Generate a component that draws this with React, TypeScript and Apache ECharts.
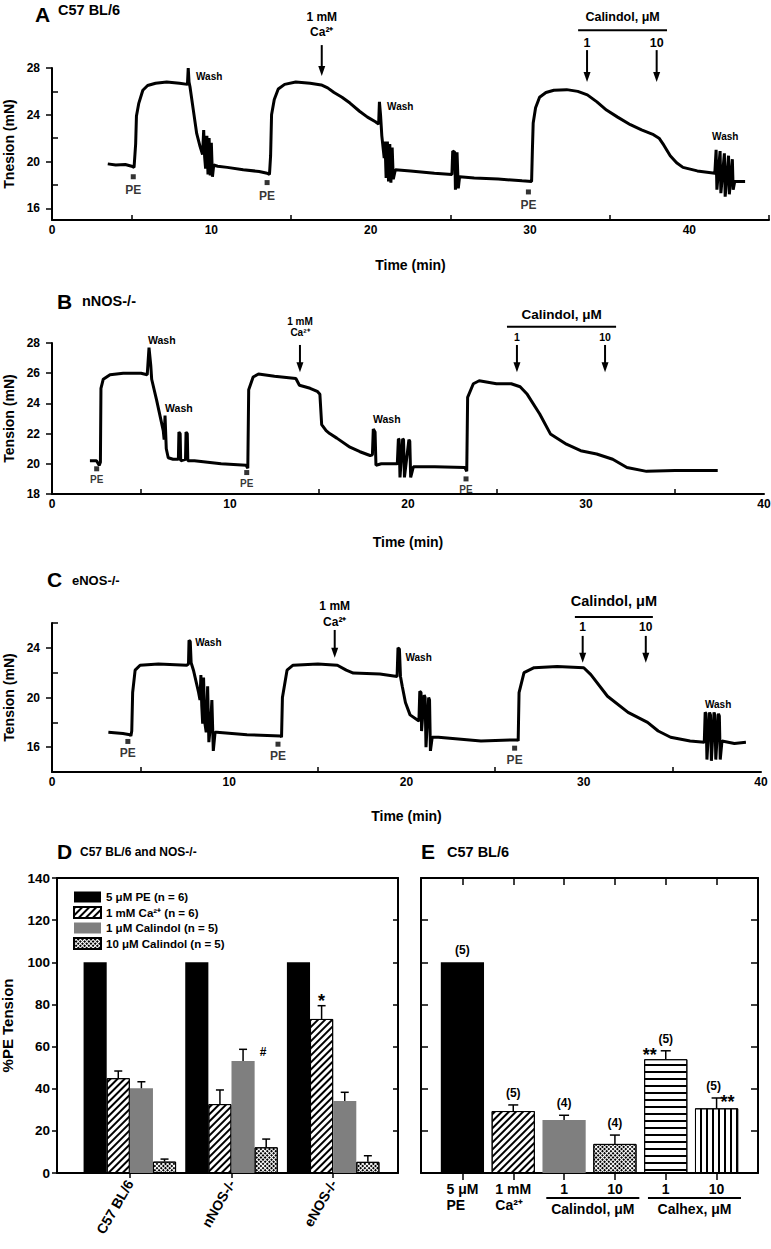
import React, { useEffect, useRef } from 'react';
import * as echarts from 'echarts';

const FONT = '"Liberation Sans", Arial, Helvetica, sans-serif';
const K = '#000000';
const GRAY = '#7f7f7f';

// ---------------- Panel A–C: tension traces [time (min), tension (mN)] ----------------
const traceA = [
  [3.5,19.8],[4.0,19.7],[4.6,19.75],[5.0,19.6],[5.15,19.5],[5.25,21.5],[5.3,23.9],[5.45,25.0],[5.7,26.1],[6.0,26.5],
  [6.5,26.7],[7.2,26.8],[8.0,26.7],[8.5,26.6],[8.55,28.0],[8.6,26.8],[8.66,26.4],[8.87,24.4],[9.08,22.4],[9.29,21.3],
  [9.45,20.6],[9.52,22.7],[9.58,20.4],[9.64,19.4],[9.72,22.2],[9.79,18.9],[9.86,22.0],[9.93,18.8],[10.0,21.6],[10.07,18.7],
  [10.15,19.7],[10.4,19.6],[11.0,19.5],[12.0,19.3],[13.0,19.15],[13.5,19.0],[13.65,18.9],[13.72,20.5],[13.78,24.0],[13.95,25.3],
  [14.2,26.2],[14.6,26.6],[15.3,26.8],[16.2,26.7],[16.9,26.55],[17.3,26.3],[17.7,25.9],[18.2,25.5],[18.7,25.0],[19.3,24.3],
  [19.8,23.8],[20.3,23.4],[20.5,23.2],[20.55,25.1],[20.62,24.0],[20.7,22.2],[20.85,20.3],[20.9,21.7],[20.97,18.6],[21.05,21.7],
  [21.12,18.3],[21.2,21.5],[21.27,18.2],[21.35,21.2],[21.42,18.5],[21.55,19.3],[22.5,19.2],[24.0,19.0],[25.1,18.9],[25.15,20.9],
  [25.28,20.8],[25.32,17.6],[25.42,20.8],[25.5,17.7],[25.58,18.7],[26.5,18.6],[28.0,18.5],[29.5,18.35],[30.1,18.3],[30.15,21.0],
  [30.2,23.3],[30.35,24.6],[30.6,25.5],[31.0,25.9],[31.5,26.1],[32.3,26.15],[33.0,26.0],[33.6,25.7],[34.2,25.1],[34.8,24.4],
  [35.5,23.8],[36.3,23.15],[37.0,22.7],[37.75,22.3],[38.1,22.0],[38.4,21.4],[38.8,20.5],[39.2,19.9],[39.6,19.5],[40.5,19.2],
  [41.6,19.0],[41.68,21.0],[41.73,17.6],[41.93,20.9],[41.98,17.3],[42.2,20.7],[42.25,17.0],[42.46,20.5],[42.51,17.2],[42.7,20.2],
  [42.75,17.6],[42.85,18.3],[43.5,18.3]
];
const traceB = [
  [2.13,20.2],[2.5,20.2],[2.65,19.9],[2.72,20.1],[2.75,25.0],[2.88,25.6],[3.26,25.9],[4.0,26.0],[5.0,26.0],[5.35,25.9],
  [5.45,27.7],[5.55,26.5],[5.6,25.6],[5.88,24.2],[6.25,22.2],[6.3,21.6],[6.35,23.2],[6.42,21.0],[6.53,20.4],[6.8,20.3],
  [7.1,20.3],[7.13,22.1],[7.2,22.0],[7.23,20.2],[7.5,20.3],[7.53,22.1],[7.6,22.0],[7.63,20.2],[8.0,20.2],[9.5,20.0],
  [10.9,19.9],[11.0,19.7],[11.05,24.9],[11.3,25.75],[11.6,25.95],[12.5,25.8],[13.7,25.65],[13.9,25.2],[14.5,25.0],[14.9,24.8],
  [15.05,24.6],[15.15,22.6],[15.4,22.2],[15.6,22.0],[16.0,21.7],[16.74,21.1],[17.3,20.8],[17.87,20.55],[18.0,20.6],[18.05,22.3],
  [18.15,22.1],[18.2,19.9],[18.5,20.0],[19.4,20.0],[19.46,21.65],[19.5,21.6],[19.55,19.1],[19.7,21.65],[19.75,21.6],[19.8,19.1],
  [20.05,21.6],[20.1,21.5],[20.15,19.1],[20.3,19.8],[21.5,19.8],[23.2,19.75],[23.3,19.5],[23.35,24.4],[23.67,25.3],[24.0,25.5],
  [24.97,25.3],[25.8,25.3],[26.3,25.1],[26.7,24.6],[27.4,23.3],[28.0,21.98],[28.9,21.3],[29.7,20.87],[30.6,20.65],[31.5,20.3],
  [32.3,19.75],[33.4,19.5],[35.0,19.55],[37.4,19.55]
];
const traceC = [
  [3.18,17.2],[4.0,17.1],[4.4,17.0],[4.45,16.9],[4.5,17.3],[4.55,20.4],[4.69,22.2],[4.97,22.6],[6.0,22.7],[7.6,22.6],
  [7.7,22.7],[7.73,24.6],[7.8,24.5],[7.85,22.8],[7.98,22.2],[8.27,20.4],[8.35,19.8],[8.4,21.8],[8.45,19.3],[8.5,17.9],
  [8.55,21.6],[8.62,18.0],[8.7,17.2],[8.78,20.9],[8.85,16.4],[8.95,17.9],[9.02,19.8],[9.1,15.7],[9.2,17.2],[9.3,17.2],
  [11.0,17.0],[12.9,16.9],[12.95,16.8],[13.0,20.0],[13.26,22.2],[13.6,22.6],[15.0,22.7],[16.1,22.6],[16.6,22.2],[17.0,21.97],
  [18.5,21.9],[19.47,21.7],[19.52,24.0],[19.6,23.9],[19.66,21.7],[19.76,20.9],[19.94,19.6],[20.2,18.6],[20.7,18.1],[20.75,20.5],
  [20.82,20.4],[20.85,17.3],[21.0,20.2],[21.05,20.0],[21.1,16.0],[21.25,20.0],[21.3,19.8],[21.35,15.7],[21.45,16.8],[21.8,16.8],
  [24.2,16.5],[26.25,16.6],[26.3,16.5],[26.35,20.4],[26.63,22.0],[27.2,22.4],[28.5,22.5],[30.0,22.4],[30.4,21.84],[31.34,20.1],
  [32.5,18.8],[33.6,18.0],[34.2,17.3],[34.9,16.8],[36.0,16.5],[36.8,16.4],[36.85,18.8],[36.9,18.7],[36.95,15.0],[37.1,18.8],
  [37.15,18.6],[37.2,14.9],[37.35,18.8],[37.4,18.6],[37.45,15.0],[37.6,18.7],[37.65,18.5],[37.7,15.0],[37.8,16.5],[38.5,16.3],
  [39.15,16.4]
];

// PE application markers [time, tension]
const peA = [[5.1,18.7],[13.5,18.2],[29.9,17.4]];
const peB = [[2.51,19.67],[10.94,19.42],[23.26,19.0]];
const peC = [[4.28,16.46],[12.75,16.24],[26.1,15.92]];

// Wash label anchors [time, tension]
const washA = [[9.04,27.3],[21.03,24.68],[41.43,22.13]];
const washB = [[5.39,28.2],[6.35,23.67],[18.03,23.0]];
const washC = [[8.08,24.4],[19.94,23.2],[36.84,19.44]];

// Ca2+ addition time and Calindol (1, 10 µM) addition times (min)
const caTimeA = 16.93, caTimeB = 13.93, caTimeC = 15.95;
const calTimesA = [33.58, 37.95];
const calTimesB = [26.12, 31.07];
const calTimesC = [29.94, 33.5];
const calDoses = ['1', '10'];

// ---------------- Panel D ----------------
const groupsD = ['C57 BL/6', 'nNOS-/-', 'eNOS-/-'];
const namesD = ['5 μM PE (n = 6)', '1 mM Ca²⁺ (n = 6)', '1 μM Calindol (n = 5)', '10 μM Calindol (n = 5)'];
const pePctD = [100, 100, 100];
const caPctD = [45.0, 32.7, 73.1];
const caErrD = [3.4, 6.7, 6.3];
const cal1PctD = [40.2, 53.2, 34.2];
const cal1ErrD = [3.1, 5.5, 4.1];
const cal10PctD = [5.4, 12.2, 5.3];
const cal10ErrD = [1.2, 3.9, 2.9];
const sigD = [{ group: 2, bar: 1, text: '*' }, { group: 1, bar: 2, text: '#' }];

// ---------------- Panel E ----------------
const catsE = ['5 μM\nPE', '1 mM\nCa²⁺', '1', '10', '1', '10'];
const pctE = [100, 29.4, 25.2, 13.8, 54.0, 30.7];
const errE = [0, 2.9, 2.2, 4.2, 4.0, 4.9];
const nE = ['(5)', '(5)', '(4)', '(4)', '(5)', '(5)'];
const sigE = ['', '', '', '', '**', '**'];
const groupsE = [{ label: 'Calindol, μM', from: 2, to: 3 }, { label: 'Calhex, μM', from: 4, to: 5 }];

// ---------------- styles ----------------
const HATCH = { symbol: 'rect', symbolSize: 1, dashArrayX: [1, 0], dashArrayY: [1.3, 2.6], rotation: -Math.PI / 4, color: K };
const CROSS = { symbol: 'rect', symbolSize: 1, dashArrayX: [2, 1], dashArrayY: [2, 1], rotation: Math.PI / 4, color: K };
const HSTRIPE = { symbol: 'rect', symbolSize: 1, dashArrayX: [1, 0], dashArrayY: [1.3, 4.3], rotation: 0, color: K };
const VSTRIPE = { symbol: 'rect', symbolSize: 1, dashArrayX: [1, 0], dashArrayY: [1.3, 3.8], rotation: Math.PI / 2, color: K };
const ST_BLACK = { color: K };
const ST_HATCH = { color: '#ffffff', borderColor: K, borderWidth: 1, decal: HATCH };
const ST_GRAY = { color: GRAY };
const ST_CROSS = { color: '#ffffff', borderColor: K, borderWidth: 1, decal: CROSS };
const ST_H = { color: '#ffffff', borderColor: K, borderWidth: 1, decal: HSTRIPE };
const ST_V = { color: '#ffffff', borderColor: K, borderWidth: 1, decal: VSTRIPE };
const stylesD = [ST_BLACK, ST_HATCH, ST_GRAY, ST_CROSS];
const stylesE = [ST_BLACK, ST_HATCH, ST_GRAY, ST_CROSS, ST_H, ST_V];

const GAP_D = 0.09;

const lab = (size: number) => ({ color: K, fontSize: size, fontWeight: 'bold', fontFamily: FONT });
const lineS = { color: K, width: 2 };
const tickS = { color: K, width: 1.5 };

// annotation layout (vertical placement in tension units, font sizes)
const layoutA = { font: 12, wash: 10, calFont: 12.5, numFont: 12.5, caV: [32.4, 31.06, 29.96, 27.32], calV: [32.34, 31.23, 30.13, 29.53, 26.8], calLine: [33.02, 38.6] };
const layoutB = { font: 10, wash: 10.5, calFont: 13.5, numFont: 10.5, caV: [29.4, 28.67, 27.87, 26.07], calV: [29.87, 29.07, 28.4, 27.87, 26.07], calLine: [25.56, 31.69] };
const layoutC = { font: 12, wash: 10, calFont: 14.5, numFont: 12, caV: [27.36, 26.08, 25.44, 23.2], calV: [27.76, 26.48, 25.68, 24.96, 22.8], calLine: [29.5, 33.9] };

function buildOption() {
  const grid = [
    { left: 52, top: 68, width: 717, height: 152 },
    { left: 52, top: 343, width: 712, height: 151 },
    { left: 52, top: 623, width: 709, height: 149 },
    { left: 57, top: 878, width: 341, height: 295 },
    { left: 79, top: 878, width: 305, height: 295 },
    { left: 421, top: 878, width: 337, height: 295 },
    { left: 437, top: 878, width: 305, height: 295 },
  ].map((g) => ({ ...g, containLabel: false, outerBoundsMode: 'none', show: false }));

  const xAxis: any[] = [];
  const yAxis: any[] = [];
  const addX = (o: any) => { xAxis.push(o); return xAxis.length - 1; };
  const addY = (o: any) => { yAxis.push(o); return yAxis.length - 1; };

  const tracePanel = (g: number, c: any) => {
    const x = addX({
      type: 'value', gridIndex: g, min: 0, max: c.xMax, position: 'bottom',
      axisLine: { show: true, onZero: false, lineStyle: lineS }, axisTick: { show: false },
      axisLabel: { show: true, customValues: [0, 10, 20, 30, 40], margin: 4, ...lab(12) },
      splitLine: { show: false },
      name: 'Time (min)', nameLocation: 'middle', nameGap: c.xNameGap, nameTextStyle: lab(14),
    });
    addX({
      type: 'value', gridIndex: g, min: 0, max: c.xMax, position: 'bottom',
      axisLine: { show: false }, axisTick: { show: true, inside: true, length: 5, customValues: c.xMinor, lineStyle: tickS },
      axisLabel: { show: false }, splitLine: { show: false },
    });
    const y = addY({
      type: 'value', gridIndex: g, min: c.yMin, max: c.yMax, position: 'left',
      axisLine: { show: true, onZero: false, lineStyle: lineS },
      axisTick: { show: true, inside: false, length: 6, customValues: c.yLabels, lineStyle: tickS },
      axisLabel: { show: true, customValues: c.yLabels, margin: 12, ...lab(12) },
      splitLine: { show: false },
      name: c.yName, nameLocation: 'middle', nameGap: 35, nameTextStyle: lab(14),
    });
    if (c.yMinor.length) {
      addY({
        type: 'value', gridIndex: g, min: c.yMin, max: c.yMax, position: 'left',
        axisLine: { show: false }, axisTick: { show: true, inside: true, length: 6, customValues: c.yMinor, lineStyle: tickS },
        axisLabel: { show: false }, splitLine: { show: false },
      });
    }
    return { x, y };
  };

  const aA = tracePanel(0, { xMax: 45, xMinor: [5, 15, 25, 35, 45], xNameGap: 38, yMin: 15, yMax: 28, yLabels: [16, 20, 24, 28], yMinor: [18, 22, 26], yName: 'Tnesion (mN)' });
  const aB = tracePanel(1, { xMax: 40, xMinor: [5, 15, 25, 35], xNameGap: 41, yMin: 18, yMax: 28, yLabels: [18, 20, 22, 24, 26, 28], yMinor: [], yName: 'Tension (mN)' });
  const aC = tracePanel(2, { xMax: 40, xMinor: [5, 15, 25, 35], xNameGap: 37, yMin: 14, yMax: 26, yLabels: [16, 20, 24], yMinor: [18, 22, 26], yName: 'Tension (mN)' });

  // ---- D frame ----
  const frameX = (g: number, pos: string) => addX({
    type: 'value', gridIndex: g, min: 0, max: 1, position: pos,
    axisLine: { show: true, onZero: false, lineStyle: lineS }, axisTick: { show: false }, axisLabel: { show: false }, splitLine: { show: false },
  });
  frameX(3, 'bottom'); frameX(3, 'top');
  addY({
    type: 'value', gridIndex: 3, min: 0, max: 140, interval: 20, position: 'left',
    axisLine: { show: true, onZero: false, lineStyle: lineS },
    axisTick: { show: true, inside: false, length: 5, lineStyle: tickS },
    axisLabel: { show: true, margin: 7, ...lab(13.5) }, splitLine: { show: false },
    name: '%PE Tension', nameLocation: 'middle', nameGap: 42, nameTextStyle: lab(15),
  });
  addY({
    type: 'value', gridIndex: 3, min: 0, max: 140, interval: 20, position: 'right',
    axisLine: { show: true, onZero: false, lineStyle: lineS },
    axisTick: { show: true, inside: true, length: 5, lineStyle: tickS },
    axisLabel: { show: false }, splitLine: { show: false },
  });
  const xD = addX({
    type: 'category', gridIndex: 4, data: groupsD, position: 'bottom',
    axisLine: { show: false }, axisTick: { show: true, alignWithLabel: true, length: 5, lineStyle: tickS },
    axisLabel: { show: true, rotate: 60, margin: 8, interval: 0, ...lab(14) }, splitLine: { show: false },
  });
  const yD = addY({ type: 'value', gridIndex: 4, min: 0, max: 140, show: false });

  // ---- E frame ----
  frameX(5, 'bottom'); frameX(5, 'top');
  addY({
    type: 'value', gridIndex: 5, min: 0, max: 140, interval: 20, position: 'left',
    axisLine: { show: true, onZero: false, lineStyle: lineS },
    axisTick: { show: true, inside: true, length: 7, lineStyle: tickS },
    axisLabel: { show: false }, splitLine: { show: false },
  });
  addY({
    type: 'value', gridIndex: 5, min: 0, max: 140, interval: 20, position: 'right',
    axisLine: { show: true, onZero: false, lineStyle: lineS },
    axisTick: { show: true, inside: true, length: 7, lineStyle: tickS },
    axisLabel: { show: false }, splitLine: { show: false },
  });
  const xE = addX({
    type: 'category', gridIndex: 6, data: catsE, position: 'bottom',
    axisLine: { show: false }, axisTick: { show: true, alignWithLabel: true, length: 7, lineStyle: tickS },
    axisLabel: {
      show: true, margin: 8, interval: 0, ...lab(14),
      formatter: (v: string) => v.split('\n').map((s) => `{l|${s}}`).join('\n'),
      rich: { l: { align: 'left', lineHeight: 16, ...lab(14) } },
    },
    splitLine: { show: false },
  });
  addX({
    type: 'category', gridIndex: 6, data: catsE, position: 'top',
    axisLine: { show: false }, axisTick: { show: true, inside: true, alignWithLabel: true, length: 7, lineStyle: tickS },
    axisLabel: { show: false }, splitLine: { show: false },
  });
  const yE = addY({ type: 'value', gridIndex: 6, min: 0, max: 140, show: false });

  const series: any[] = [];
  const traceSeries = (ax: any, data: number[][], pe: number[][], peFont: number, peDist: number) => {
    series.push({
      type: 'line', xAxisIndex: ax.x, yAxisIndex: ax.y, data, showSymbol: false, symbol: 'none',
      lineStyle: { color: K, width: 3 }, clip: false, silent: true, z: 3,
    });
    series.push({
      type: 'scatter', xAxisIndex: ax.x, yAxisIndex: ax.y, data: pe, symbol: 'rect', symbolSize: 5,
      itemStyle: { color: K }, silent: true, z: 4,
      label: { show: true, formatter: 'PE', position: 'bottom', distance: peDist, ...lab(peFont) },
    });
  };
  traceSeries(aA, traceA, peA, 12, 5);
  traceSeries(aB, traceB, peB, 10, 3);
  traceSeries(aC, traceC, peC, 12, 3);

  const meansD = [pePctD, caPctD, cal1PctD, cal10PctD];
  meansD.forEach((d, i) => {
    series.push({
      type: 'bar', name: namesD[i], xAxisIndex: xD, yAxisIndex: yD, data: d,
      barGap: '0%', barCategoryGap: `${GAP_D * 100}%`, itemStyle: stylesD[i], silent: true, z: 2,
    });
  });
  const errDataD: number[][] = [];
  [[caPctD, caErrD], [cal1PctD, cal1ErrD], [cal10PctD, cal10ErrD]].forEach(([m, e], k) => {
    m.forEach((v, g) => errDataD.push([g, v, e[g], k + 1]));
  });
  const sigLayoutD: any = { '*': { dx: 0, dy: -5, size: 18 }, '#': { dx: 20, dy: 3, size: 12 } };
  series.push({
    type: 'custom', xAxisIndex: xD, yAxisIndex: yD, data: errDataD, encode: { x: 0, y: 1 }, z: 5, silent: true,
    renderItem: (params: any, api: any) => {
      const g = api.value(0), m = api.value(1), e = api.value(2), b = api.value(3);
      const band = api.size([1, 0])[0];
      const inner = band * (1 - GAP_D);
      const bw = inner / 4;
      const c = api.coord([g, m]);
      const x = c[0] - inner / 2 + bw * (b + 0.5);
      const yt = api.coord([g, m + e])[1];
      const kids: any[] = [
        { type: 'line', shape: { x1: x, y1: c[1], x2: x, y2: yt }, style: { stroke: K, lineWidth: 1.5 } },
        { type: 'line', shape: { x1: x - 4, y1: yt, x2: x + 4, y2: yt }, style: { stroke: K, lineWidth: 1.5 } },
      ];
      sigD.forEach((s) => {
        if (s.group === g && s.bar === b) {
          const L = sigLayoutD[s.text];
          kids.push({ type: 'text', x: x + L.dx, y: yt + L.dy, style: { text: s.text, fill: K, font: `bold ${L.size}px ${FONT}`, align: 'center', verticalAlign: 'middle', textAlign: 'center', textVerticalAlign: 'middle' } });
        }
      });
      return { type: 'group', children: kids };
    },
  });

  series.push({
    type: 'bar', xAxisIndex: xE, yAxisIndex: yE, barCategoryGap: '15%', silent: true, z: 2,
    data: pctE.map((v, i) => ({ value: v, itemStyle: stylesE[i] })),
  });
  const nDxE = [0, 0, 0, 0, 0, -3];
  const sigDxE = [0, 0, 0, 0, -16, 11];
  series.push({
    type: 'custom', xAxisIndex: xE, yAxisIndex: yE, data: pctE.map((v, i) => [i, v, errE[i]]), encode: { x: 0, y: 1 }, z: 5, silent: true,
    renderItem: (params: any, api: any) => {
      const i = params.dataIndex;
      const m = api.value(1), e = api.value(2);
      const c = api.coord([i, m]);
      const yt = api.coord([i, m + e])[1];
      const x = c[0];
      const kids: any[] = [];
      if (e > 0) {
        kids.push({ type: 'line', shape: { x1: x, y1: c[1], x2: x, y2: yt }, style: { stroke: K, lineWidth: 1.5 } });
        kids.push({ type: 'line', shape: { x1: x - 5, y1: yt, x2: x + 5, y2: yt }, style: { stroke: K, lineWidth: 1.5 } });
      }
      kids.push({ type: 'text', x: x + nDxE[i], y: yt - 12, style: { text: nE[i], fill: K, font: `bold 12px ${FONT}`, align: 'center', verticalAlign: 'middle', textAlign: 'center', textVerticalAlign: 'middle' } });
      if (sigE[i]) {
        kids.push({ type: 'text', x: x + sigDxE[i], y: yt + 4, style: { text: sigE[i], fill: K, font: `bold 18px ${FONT}`, align: 'center', verticalAlign: 'middle', textAlign: 'center', textVerticalAlign: 'middle' } });
      }
      return { type: 'group', children: kids };
    },
  });

  const option = {
    animation: false,
    backgroundColor: '#ffffff',
    textStyle: { fontFamily: FONT, color: K },
    grid, xAxis, yAxis, series,
    legend: {
      data: namesD, left: 73, top: 891, orient: 'vertical', itemWidth: 27, itemHeight: 11, itemGap: 3,
      icon: 'rect', selectedMode: false, padding: 0, textStyle: lab(11.5),
    },
  };
  return { option, ids: { aA, aB, aC, xE, yE } };
}

const T = (text: string, x: number, y: number, size: number, align = 'left') => ({
  type: 'text', x, y, silent: true,
  style: { text, fill: K, font: `bold ${size}px ${FONT}`, align, verticalAlign: 'middle', textAlign: align, textVerticalAlign: 'middle' },
});

const arrowEls = (x: number, y0: number, tip: number) => [
  { type: 'line', silent: true, shape: { x1: x, y1: y0, x2: x, y2: tip - 6 }, style: { stroke: K, lineWidth: 2 } },
  { type: 'polygon', silent: true, shape: { points: [[x - 3.5, tip - 10], [x + 3.5, tip - 10], [x, tip]] }, style: { fill: K } },
];

function buildGraphic(chart: any, ids: any) {
  const els: any[] = [];
  els.push(T('A', 35, 14, 21), T('C57 BL/6', 58, 10, 14.5));
  els.push(T('B', 57, 301, 21), T('nNOS-/-', 82, 301, 14.5));
  els.push(T('C', 47, 579, 21), T('eNOS-/-', 72, 580, 13));
  els.push(T('D', 57, 851, 21), T('C57 BL/6 and NOS-/-', 80, 852, 12));
  els.push(T('E', 421, 851, 21), T('C57 BL/6', 447, 852, 14.5));

  const panels = [
    { ax: ids.aA, wash: washA, ca: caTimeA, cal: calTimesA, L: layoutA },
    { ax: ids.aB, wash: washB, ca: caTimeB, cal: calTimesB, L: layoutB },
    { ax: ids.aC, wash: washC, ca: caTimeC, cal: calTimesC, L: layoutC },
  ];
  panels.forEach((p) => {
    const P = (t: number, v: number) => chart.convertToPixel({ xAxisIndex: p.ax.x, yAxisIndex: p.ax.y }, [t, v]);
    p.wash.forEach(([t, v]) => { const q = P(t, v); els.push(T('Wash', q[0], q[1], p.L.wash)); });
    const L = p.L;
    const c1 = P(p.ca, L.caV[0]), c2 = P(p.ca, L.caV[1]), a0 = P(p.ca, L.caV[2]), a1 = P(p.ca, L.caV[3]);
    els.push(T('1 mM', c1[0], c1[1], L.font, 'center'));
    els.push(T('Ca²⁺', c2[0], c2[1], L.font, 'center'));
    els.push(...arrowEls(a0[0], a0[1], a1[1]));
    const l0 = P(L.calLine[0], L.calV[1]), l1 = P(L.calLine[1], L.calV[1]);
    const lbl = P((L.calLine[0] + L.calLine[1]) / 2, L.calV[0]);
    els.push(T('Calindol, μM', lbl[0], lbl[1], L.calFont, 'center'));
    els.push({ type: 'line', silent: true, shape: { x1: l0[0], y1: l0[1], x2: l1[0], y2: l1[1] }, style: { stroke: K, lineWidth: 2 } });
    p.cal.forEach((t, k) => {
      const n = P(t, L.calV[2]), s = P(t, L.calV[3]), e = P(t, L.calV[4]);
      els.push(T(calDoses[k], n[0], n[1], L.numFont, 'center'));
      els.push(...arrowEls(s[0], s[1], e[1]));
    });
  });

  const PE = (i: number) => chart.convertToPixel({ xAxisIndex: ids.xE, yAxisIndex: ids.yE }, [i, 0]);
  const band = PE(1)[0] - PE(0)[0];
  groupsE.forEach((g) => {
    const a = PE(g.from), b = PE(g.to);
    const x1 = a[0] - 0.35 * band, x2 = b[0] + 0.48 * band;
    const y0 = a[1];
    els.push({ type: 'line', silent: true, shape: { x1, y1: y0 + 25, x2, y2: y0 + 25 }, style: { stroke: K, lineWidth: 2 } });
    els.push(T(g.label, (x1 + x2) / 2, y0 + 36, 14, 'center'));
  });
  return els;
}

export default function App() {
  const ref = useRef<HTMLDivElement>(null);
  useEffect(() => {
    const chart = echarts.init(ref.current as HTMLDivElement, null, { renderer: 'svg' });
    const { option, ids } = buildOption();
    chart.setOption(option as any);
    chart.setOption({ graphic: buildGraphic(chart, ids) } as any);
    return () => chart.dispose();
  }, []);
  return <div ref={ref} style={{ position: 'absolute', left: 0, top: 0, width: 771, height: 1249, background: '#ffffff' }} />;
}
